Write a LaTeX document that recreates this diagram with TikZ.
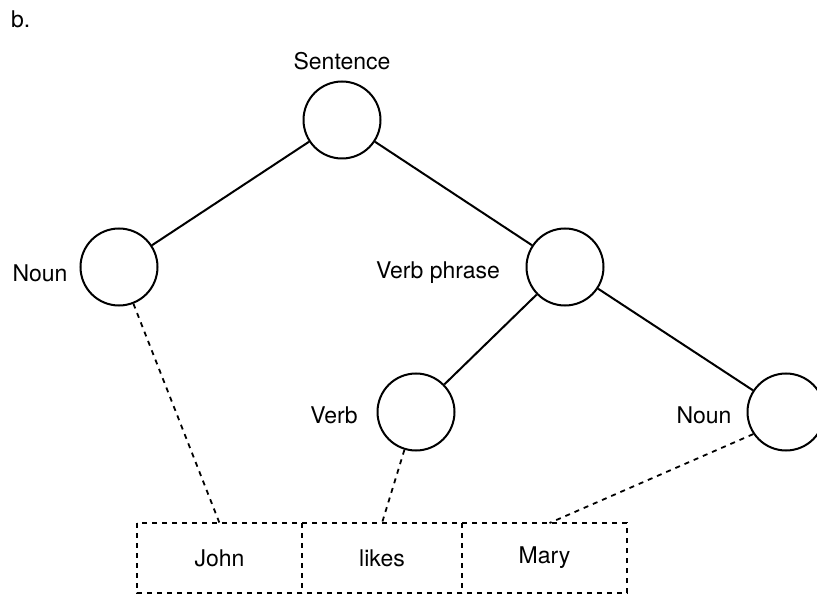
\documentclass[tikz,border=0pt]{standalone}
\usepackage{fontspec}
\setmainfont{TeX Gyre Heros}
\begin{document}
\begin{tikzpicture}[x=1pt,y=-1pt,
  every node/.style={font=\fontsize{23}{27}\selectfont},
  cnode/.style={circle,draw,line width=2pt,minimum size=77pt,inner sep=0pt},
  lbl/.style={anchor=base,inner sep=0pt},
  wbox/.style={minimum height=70pt,inner sep=0pt,outer sep=0pt},
  edge/.style={line width=2pt},
  dline/.style={line width=1.8pt,dash pattern=on 5pt off 5pt}]
\useasboundingbox (0,0) rectangle (817,596);
% circles
\node[cnode] (s) at (342,120) {};
\node[cnode] (n1) at (119,267) {};
\node[cnode] (vp) at (565,267) {};
\node[cnode] (v) at (416,412) {};
\node[cnode] (n2) at (786,412) {};
% labels
\node[lbl,anchor=base west] (b) at (11,28) {b.};
\node[lbl] (ls) at (342,70) {Sentence};
\node[lbl] (ln1) at (40,282) {Noun};
\node[lbl] (lvp) at (438,279) {Verb phrase};
\node[lbl] (lv) at (334,423) {Verb};
\node[lbl] (ln2) at (704,423) {Noun};
% word boxes
\node[wbox,minimum width=165pt] (john) at (219.5,558) {John};
\node[wbox,minimum width=160pt] (likes) at (382,558) {likes};
\node[wbox,minimum width=165pt] (mary) at (544.5,558) {Mary};
\draw[dline] (john.north west) rectangle (mary.south east);
\draw[dline] (john.north east) -- (john.south east);
\draw[dline] (likes.north east) -- (likes.south east);
% tree edges
\draw[edge] (s) -- (n1);
\draw[edge] (s) -- (vp);
\draw[edge] (vp) -- (v);
\draw[edge] (vp) -- (n2);
% dashed links
\draw[dline] (n1) -- (john.north);
\draw[dline] (v) -- (likes.north);
\draw[dline] (n2.214) -- ([xshift=5pt]mary.north);
\end{tikzpicture}
\end{document}
